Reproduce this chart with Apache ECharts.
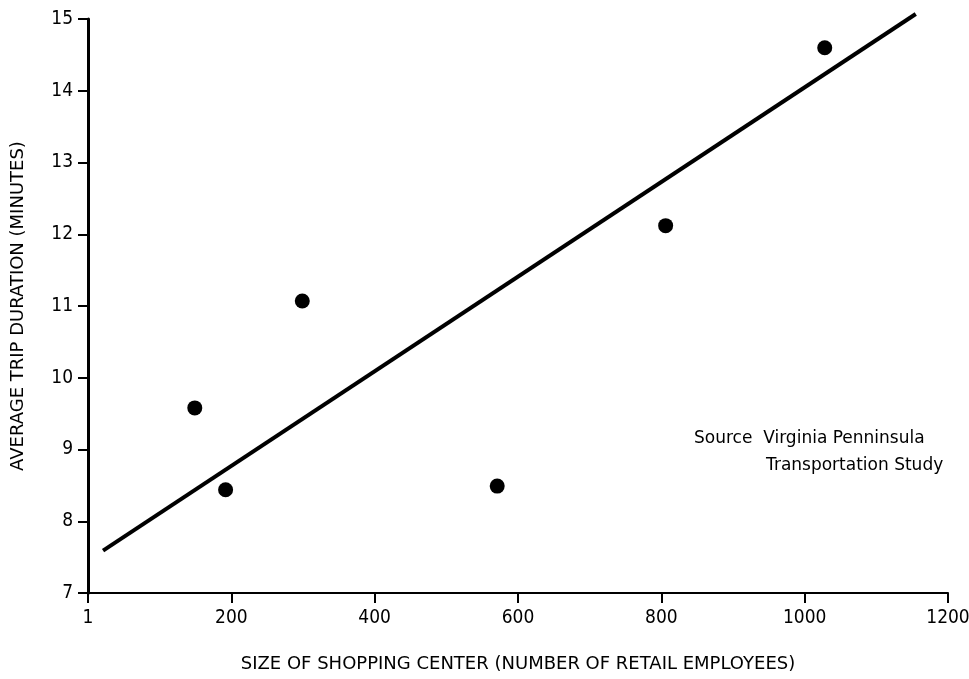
<!DOCTYPE html>
<html>
<head>
<meta charset="utf-8">
<script src="https://cdn.jsdelivr.net/npm/echarts@6/dist/echarts.min.js"></script>
<style>
  html, body { margin: 0; padding: 0; background: #fff; }
  #chart { width: 969px; height: 679px; }
</style>
</head>
<body>
<div id="chart"></div>
<script>
// observed points: shopping centre size vs average trip duration
const employees = [149, 192, 299, 571, 806, 1028]
const durations = [9.58, 8.44, 11.07, 8.49, 12.12, 14.6]
// fitted trend line ends
const fitX = [21, 1155]
const fitY = [7.59, 15.07]
const xTicks = [0, 200, 400, 600, 800, 1000, 1200]

const font = '"DejaVu Sans", sans-serif'
const numFont = '"Liberation Sans Narrow", "DejaVu Sans Condensed", sans-serif'
const chart = echarts.init(document.getElementById('chart'))

const option = {
  backgroundColor: '#fff',
  animation: false,
  grid: { left: 88, right: 21, top: 19, bottom: 86, containLabel: false, outerBoundsMode: 'none' },
  xAxis: {
    type: 'value',
    min: 0,
    max: 1200,
    interval: 200,
    name: 'SIZE OF SHOPPING CENTER (NUMBER OF RETAIL EMPLOYEES)',
    nameLocation: 'middle',
    nameGap: 62,
    nameTextStyle: { color: '#000', fontSize: 18, fontFamily: font },
    axisLine: { lineStyle: { color: '#000', width: 2 } },
    axisTick: { length: 10, lineStyle: { color: '#000', width: 2 } },
    axisLabel: {
      color: '#000',
      fontSize: 19,
      fontFamily: numFont,
      margin: 16,
      formatter: v => (v === xTicks[0] ? '1' : String(v))
    },
    splitLine: { show: false }
  },
  yAxis: {
    type: 'value',
    min: 7,
    max: 15,
    interval: 1,
    name: 'AVERAGE TRIP DURATION (MINUTES)',
    nameLocation: 'middle',
    nameGap: 61,
    nameRotate: 90,
    nameTextStyle: { color: '#000', fontSize: 18, fontFamily: font },
    axisLine: { lineStyle: { color: '#000', width: 3 } },
    axisTick: { length: 10, lineStyle: { color: '#000', width: 2 } },
    axisLabel: { color: '#000', fontSize: 19, fontFamily: numFont, margin: 15 },
    splitLine: { show: false }
  },
  series: [
    {
      type: 'line',
      data: fitX.map((x, i) => [x, fitY[i]]),
      showSymbol: false,
      clip: false,
      lineStyle: { color: '#000', width: 4 }
    },
    {
      type: 'scatter',
      data: employees.map((x, i) => [x, durations[i]]),
      symbolSize: 15,
      itemStyle: { color: '#000', opacity: 1 }
    }
  ],
  graphic: [
    {
      type: 'text',
      left: 694,
      top: 430,
      style: { text: 'Source  Virginia Penninsula', fill: '#000', font: '17px ' + font }
    },
    {
      type: 'text',
      left: 766,
      top: 457,
      style: { text: 'Transportation Study', fill: '#000', font: '17px ' + font }
    }
  ]
}

chart.setOption(option)
</script>
</body>
</html>
